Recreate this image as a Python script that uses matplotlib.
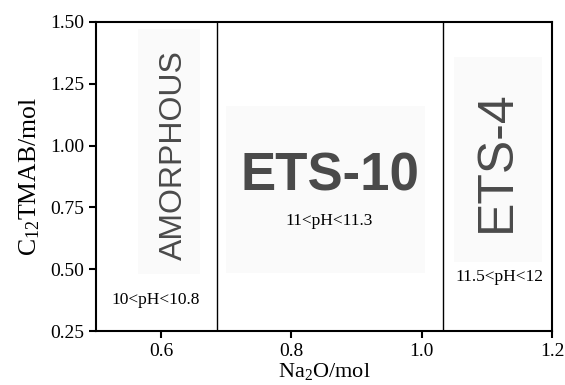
import matplotlib.pyplot as plt
from matplotlib.patches import Rectangle

# phase boundaries along Na2O axis
boundaries = [0.685, 1.032]

phase_names = ["AMORPHOUS", "ETS-10", "ETS-4"]
phase_x = [0.619, 0.859, 1.116]
phase_y = [0.962, 0.877, 0.938]
phase_rot = [90, 0, 90]
phase_size = [23, 38, 36]
phase_weight = ["normal", "bold", "normal"]

ph_labels = ["10<pH<10.8", "11<pH<11.3", "11.5<pH<12"]
ph_x = [0.591, 0.858, 1.120]
ph_y = [0.375, 0.695, 0.468]

# faint shaded boxes behind phase names (x0, x1, y0, y1)
shade_boxes = [(0.565, 0.660, 0.48, 1.47), (0.700, 1.005, 0.485, 1.16),
               (1.050, 1.185, 0.53, 1.36)]

xticks = [0.6, 0.8, 1.0, 1.2]
yticks = [0.25, 0.50, 0.75, 1.00, 1.25, 1.50]

plt.rcParams["font.family"] = "Liberation Serif"
plt.rcParams["mathtext.fontset"] = "custom"
plt.rcParams["mathtext.rm"] = "Liberation Serif"
plt.rcParams["mathtext.it"] = "Liberation Serif:italic"

fig = plt.figure(figsize=(5.65, 3.85), dpi=100)
ax = fig.add_axes([0.170, 0.140, 0.807, 0.803])

for x0, x1, y0, y1 in shade_boxes:
    ax.add_patch(Rectangle((x0, y0), x1 - x0, y1 - y0, facecolor="#fafafa",
                           edgecolor="none", zorder=0))

for b in boundaries:
    ax.axvline(b, color="black", linewidth=1.0)

for name, x, y, rot, size, w in zip(phase_names, phase_x, phase_y,
                                     phase_rot, phase_size, phase_weight):
    ax.text(x, y, name, rotation=rot, fontsize=size, fontweight=w,
            family="Liberation Sans", color="#4a4a4a",
            ha="center", va="center")

for lab, x, y in zip(ph_labels, ph_x, ph_y):
    ax.text(x, y, lab, fontsize=12.5, ha="center", va="center")

ax.set_xlim(0.5, 1.2)
ax.set_ylim(0.25, 1.5)
ax.set_xticks(xticks)
ax.set_xticklabels([f"{v:.1f}" for v in xticks])
ax.set_yticks(yticks)
ax.set_yticklabels([f"{v:.2f}" for v in yticks])
ax.tick_params(labelsize=14, width=1.5, length=5)
for s in ax.spines.values():
    s.set_linewidth(1.5)

ax.set_xlabel("Na$_2$O/mol", fontsize=16, labelpad=1)
ax.set_ylabel("C$_{12}$TMAB/mol", fontsize=18.5, labelpad=6)

fig.savefig("out.png", dpi=100)
